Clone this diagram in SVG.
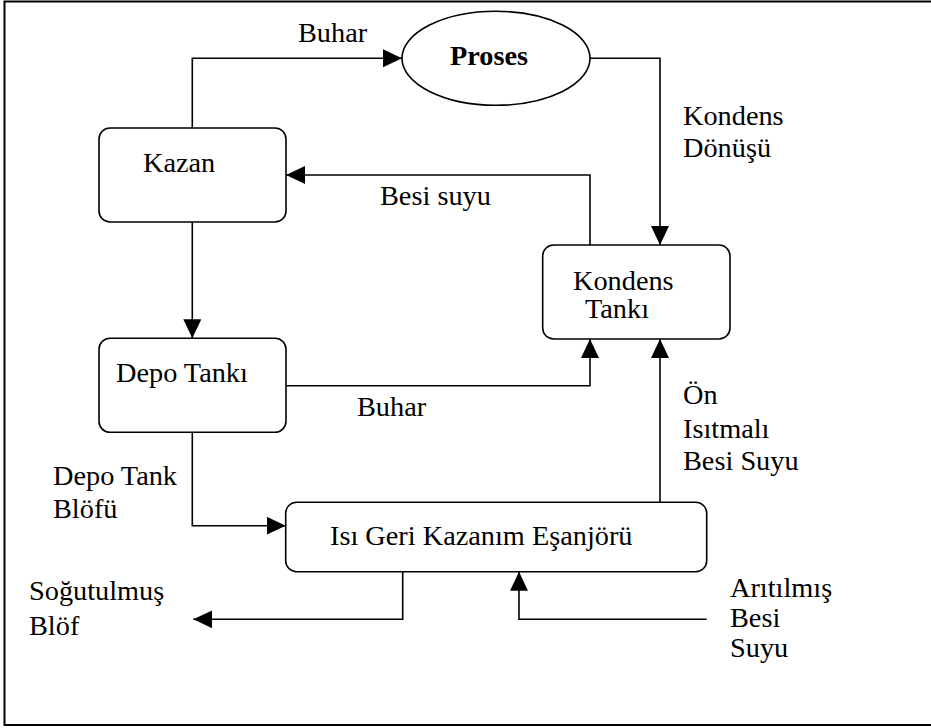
<svg xmlns="http://www.w3.org/2000/svg" width="931" height="728" viewBox="0 0 931 728">
<defs>
<marker id="ah" markerWidth="20" markerHeight="18" refX="19" refY="9" orient="auto" markerUnits="userSpaceOnUse">
<path d="M0,0 L19,9 L0,18 Z" fill="#000"/>
</marker>
<style>
.box{fill:#fff;stroke:#000;stroke-width:1.6}
.ln{fill:none;stroke:#000;stroke-width:1.6}
text{font-family:"Liberation Serif","Times New Roman",serif;font-size:28.3px;fill:#000}
.b{font-weight:bold}
</style>
</defs>
<rect x="4.5" y="1.5" width="940" height="723.5" fill="#fff" stroke="#000" stroke-width="2"/>
<g id="connectors">
<path class="ln" d="M192.3,128 V58.3 H402" marker-end="url(#ah)"/>
<path class="ln" d="M590,58.3 H660 V245" marker-end="url(#ah)"/>
<path class="ln" d="M590,245 V175 H286" marker-end="url(#ah)"/>
<path class="ln" d="M192.3,222 V338.3" marker-end="url(#ah)"/>
<path class="ln" d="M286,385.7 H590 V339" marker-end="url(#ah)"/>
<path class="ln" d="M660,502.3 V339" marker-end="url(#ah)"/>
<path class="ln" d="M192.3,432 V525.7 H285.7" marker-end="url(#ah)"/>
<path class="ln" d="M402.7,571.7 V619.3 H193.3" marker-end="url(#ah)"/>
<path class="ln" d="M706.7,619.3 H519 V571.7" marker-end="url(#ah)"/>
</g>
<g id="labels">
<text x="298" y="42">Buhar</text>
<text x="683" y="125">Kondens</text>
<text x="683" y="157">Dönüşü</text>
<text x="380" y="205">Besi suyu</text>
<text x="357" y="416">Buhar</text>
<text x="683" y="404">Ön</text>
<text x="683" y="438">Isıtmalı</text>
<text x="683" y="470">Besi Suyu</text>
<text x="53" y="485">Depo Tank</text>
<text x="53" y="518">Blöfü</text>
<text x="29" y="600">Soğutulmuş</text>
<text x="29" y="635">Blöf</text>
<text x="730" y="597">Arıtılmış</text>
<text x="730" y="627">Besi</text>
<text x="730" y="657">Suyu</text>
</g>
<g id="proses">
<ellipse class="box" cx="496" cy="58.3" rx="94" ry="47"/>
<text class="b" x="450" y="65">Proses</text>
</g>
<g id="kazan">
<rect class="box" x="99" y="128" width="187" height="94" rx="11"/>
<text x="143" y="172">Kazan</text>
</g>
<g id="kondens-tanki">
<rect class="box" x="542.7" y="245" width="187.3" height="94" rx="11"/>
<text x="573" y="290">Kondens</text>
<text x="585" y="318">Tankı</text>
</g>
<g id="depo-tanki">
<rect class="box" x="99" y="338.3" width="187" height="94" rx="11"/>
<text x="116" y="382">Depo Tankı</text>
</g>
<g id="esanjor">
<rect class="box" x="285.7" y="502.3" width="421" height="69.4" rx="11"/>
<text x="330" y="545">Isı Geri Kazanım Eşanjörü</text>
</g>
</svg>
